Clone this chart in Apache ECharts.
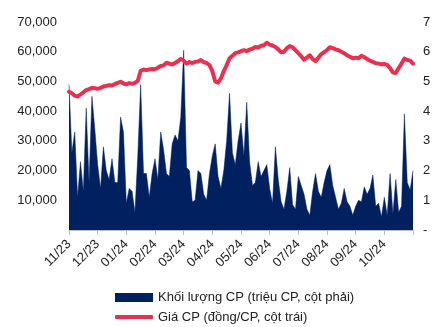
<!DOCTYPE html>
<html>
<head>
<meta charset="utf-8">
<script src="https://cdn.jsdelivr.net/npm/echarts@6/dist/echarts.min.js"></script>
<style>
  html, body { margin: 0; padding: 0; background: #fff; }
  #chart { width: 436px; height: 327px; }
</style>
</head>
<body>
<div id="chart"></div>
<script>
// Month labels at each tick of the time axis (10 samples per month)
const monthLabels = ['11/23', '12/23', '01/24', '02/24', '03/24', '04/24',
                     '05/24', '06/24', '07/24', '08/24', '09/24', '10/24'];

// Trading volume, million shares (right axis)
const volume = [
  4.9, 2.6, 3.3, 1.1, 2.3, 1.3, 4.1, 1.6, 4.5, 3.4,
  2.2, 1.4, 2.8, 2.0, 1.7, 2.4, 1.6, 1.6, 3.8, 3.3,
  0.9, 1.4, 1.3, 0.6, 2.5, 4.9, 1.9, 1.9, 1.1, 1.9,
  2.4, 1.7, 3.3, 2.7, 1.9, 1.8, 2.9, 3.2, 3.0, 3.8,
  6.05, 2.1, 2.0, 0.95, 1.0, 2.0, 1.9, 1.2, 1.0, 1.9,
  2.5, 2.9, 1.8, 1.4, 2.0, 3.0, 4.6, 2.6, 2.2, 3.0,
  3.6, 2.5, 4.3, 2.3, 1.5, 1.6, 2.3, 1.8, 2.0, 2.2,
  1.4, 0.9, 2.8, 1.7, 0.95, 0.7, 1.3, 2.1, 0.85, 0.7,
  1.8, 1.5, 1.2, 0.7, 0.5, 1.3, 1.9, 1.3, 1.1, 1.6,
  2.0, 2.2, 1.5, 1.1, 0.7, 0.9, 1.4, 0.95, 0.8, 0.5,
  0.8, 1.0, 0.95, 1.45, 1.2, 1.4, 1.85, 0.8, 0.9, 0.45,
  1.1, 0.5, 1.9, 0.55, 1.7, 0.6, 0.8, 3.9, 1.6, 1.35,
  2.0
];

// Share price, VND per share (left axis)
const price = [
  46500, 46000, 45200, 44900, 45600, 46300, 47100, 47400, 47900, 47700,
  47500, 47800, 48300, 48500, 48700, 48600, 49100, 49500, 49900, 49300,
  49000, 49400, 49200, 49500, 50200, 53600, 54000, 53800, 54000, 54200,
  54100, 54600, 55200, 55400, 56300, 56000, 55700, 56200, 56800, 57600,
  57000, 56000, 56500, 56200, 56600, 56700, 57200, 56500, 56200, 55500,
  53500, 50000, 49600, 51000, 53500, 55500, 57800, 58600, 59500, 59800,
  60200, 60500, 60200, 60700, 61000, 61600, 61400, 62000, 62200, 63000,
  62400, 62100, 61600, 60800, 59800, 60000, 61200, 61900, 61500, 60500,
  59500, 58500, 57300, 58000, 58800, 57500, 56800, 58000, 59200, 59800,
  60600, 61500, 61200, 60800, 60500, 60000, 59500, 58800, 58300, 57800,
  58000, 57800, 58600, 58200, 57500, 57000, 56600, 56100, 56000, 55800,
  55900, 55600, 54500, 53000, 52800, 54500, 56000, 57700, 57200, 57000,
  56000
];

const volName = 'Khối lượng CP (triệu CP, cột phải)';
const priceName = 'Giá CP (đồng/CP, cột trái)';
const FONT = "'Liberation Sans', Arial, sans-serif";
const NAVY = '#002060';
const RED = '#E8304F';
const TEXT = '#222';

const chart = echarts.init(document.getElementById('chart'), null, { renderer: 'canvas' });

const legendText = { fontFamily: FONT, fontSize: 13, color: TEXT, lineHeight: 15 };

chart.setOption({
  animation: false,
  backgroundColor: '#fff',
  textStyle: { fontFamily: FONT },
  grid: { left: 69, right: 23, top: 22, bottom: 97, containLabel: false },
  legend: [
    {
      left: 110,
      top: 285,
      itemWidth: 38,
      itemHeight: 9,
      textStyle: legendText,
      data: [{ name: volName, icon: 'rect' }]
    },
    {
      left: 110,
      top: 304.5,
      itemWidth: 38,
      itemHeight: 4,
      textStyle: legendText,
      itemStyle: { color: RED },
      data: [{ name: priceName, icon: 'roundRect' }]
    }
  ],
  xAxis: {
    type: 'value',
    min: 0,
    max: monthLabels.length * 10,
    interval: 10,
    axisLine: { show: true, lineStyle: { color: '#bfbfbf', width: 1 } },
    axisTick: { show: true, length: 5, lineStyle: { color: '#bfbfbf' } },
    splitLine: { show: false },
    axisLabel: {
      rotate: 45,
      margin: 12,
      fontSize: 13,
      color: TEXT,
      fontFamily: FONT,
      formatter: v => monthLabels[Math.round(v / 10)] || ''
    }
  },
  yAxis: [
    {
      type: 'value',
      min: 0,
      max: 70000,
      interval: 10000,
      position: 'left',
      axisLine: { show: false },
      axisTick: { show: false },
      splitLine: { show: false },
      axisLabel: {
        margin: 12,
        fontSize: 13,
        color: TEXT,
        fontFamily: FONT,
        formatter: v => v === 0 ? '' : v.toLocaleString('en-US')
      }
    },
    {
      type: 'value',
      min: 0,
      max: 7,
      interval: 1,
      position: 'right',
      axisLine: { show: false },
      axisTick: { show: false },
      splitLine: { show: false },
      axisLabel: {
        margin: 10,
        fontSize: 13,
        color: TEXT,
        fontFamily: FONT,
        formatter: v => v === 0 ? '-' : String(v)
      }
    }
  ],
  series: [
    {
      name: volName,
      type: 'line',
      yAxisIndex: 1,
      showSymbol: false,
      symbol: 'none',
      color: NAVY,
      lineStyle: { width: 0.5, color: NAVY },
      areaStyle: { color: NAVY, opacity: 1 },
      z: 1,
      data: volume.map((v, i) => [i, v])
    },
    {
      name: priceName,
      type: 'line',
      yAxisIndex: 0,
      showSymbol: false,
      symbol: 'none',
      color: RED,
      lineStyle: { width: 4, color: RED, cap: 'round', join: 'round' },
      z: 3,
      data: price.map((v, i) => [i, v])
    }
  ]
});
</script>
</body>
</html>
